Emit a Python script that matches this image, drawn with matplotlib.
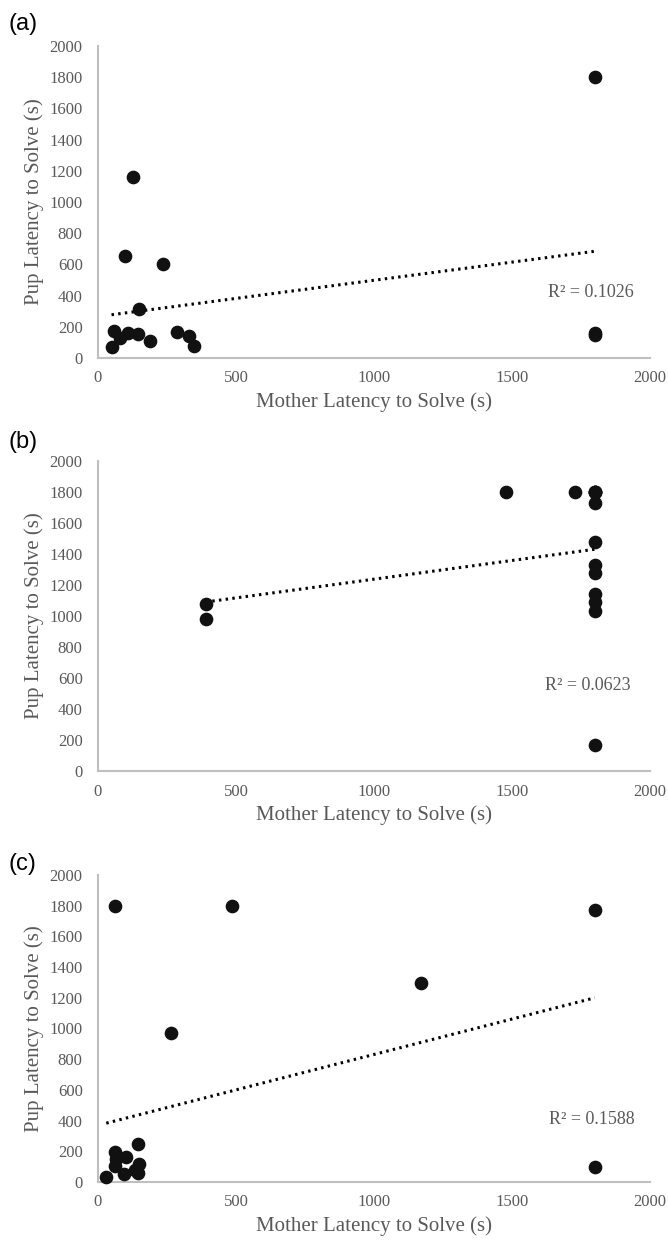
import numpy as np
import matplotlib.pyplot as plt

# values (several points overlap at the same spot)
a_mother = [1800, 128, 97, 235, 148, 57, 80, 108, 144, 49, 190, 286, 329, 349, 1800, 1800]
a_pup = [1800, 1162, 657, 603, 313, 175, 128, 160, 154, 68, 107, 166, 143, 79, 160, 145]

b_mother = [390, 390, 1480, 1730, 1800, 1800, 1800, 1800, 1800, 1800, 1800, 1800, 1800,
            1800, 1800, 1800]
b_pup = [1080, 980, 1800, 1800, 1800, 1730, 1480, 1330, 1280, 1140, 1090, 1035, 170,
         1800, 1800, 1800]

c_mother = [60, 485, 1800, 1170, 265, 1800, 30, 60, 65, 100, 60, 95, 145, 150, 135, 145]
c_pup = [1800, 1800, 1770, 1295, 970, 100, 35, 195, 150, 165, 105, 50, 245, 120, 80, 60]

panel_names = ['(a)', '(b)', '(c)']
r2_labels = ['R² = 0.1026', 'R² = 0.0623', 'R² = 0.1588']
r2_pos = [(1785, 417), (1773, 553), (1788, 404)]

W, H = 668, 1243
fig = plt.figure(figsize=(W / 100, H / 100), dpi=100)

# axes boxes in pixels: (y of 2000, y of 0)
boxes = [(46, 358), (461, 771), (875, 1182)]
x_left, x_right = 98, 650
label_y = [24, 442, 864]

serif = ['Liberation Serif', 'DejaVu Serif']
grey = '#595959'

datasets = [(a_mother, a_pup), (b_mother, b_pup), (c_mother, c_pup)]

for i, (xs, ys) in enumerate(datasets):
    top, bot = boxes[i]
    ax = fig.add_axes([x_left / W, 1 - bot / H, (x_right - x_left) / W, (bot - top) / H])
    xs = np.array(xs, dtype=float)
    ys = np.array(ys, dtype=float)

    ax.scatter(xs, ys, s=78, color='#111111', zorder=3, clip_on=False)

    # linear trendline like Excel, from min to max x
    k, b = np.polyfit(xs, ys, 1)
    tx = np.array([xs.min(), xs.max()])
    ax.plot(tx, k * tx + b, color='black', lw=2.2, linestyle=(0, (0.8, 1.4)), zorder=2)

    ax.text(r2_pos[i][0], r2_pos[i][1], r2_labels[i], ha='center', va='center',
            fontsize=13, color=grey, family=serif)

    ax.set_xlim(0, 2000)
    ax.set_ylim(0, 2000)
    ax.set_xticks(range(0, 2001, 500))
    ax.set_yticks(range(0, 2001, 200))
    for s in ['top', 'right']:
        ax.spines[s].set_visible(False)
    for s in ['left', 'bottom']:
        ax.spines[s].set_color('#bfbfbf')
        ax.spines[s].set_linewidth(1.5)
    ax.tick_params(length=0, labelsize=12, labelcolor=grey)
    ax.tick_params(axis='y', pad=11)
    ax.tick_params(axis='x', pad=9)
    for lab in ax.get_xticklabels() + ax.get_yticklabels():
        lab.set_family(serif)
    ax.set_xlabel('Mother Latency to Solve (s)', fontsize=15, color=grey,
                  family=serif, labelpad=4)
    ax.set_ylabel('Pup Latency to Solve (s)', fontsize=15, color=grey,
                  family=serif, labelpad=4)

    fig.text(8 / W, 1 - label_y[i] / H, panel_names[i], fontsize=17,
             family=['Liberation Sans', 'DejaVu Sans'], va='center', ha='left')

fig.savefig('out.png', dpi=100)
